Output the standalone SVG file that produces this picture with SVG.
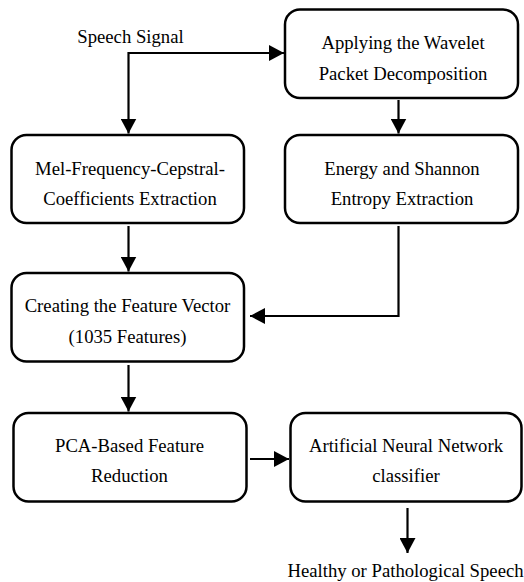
<svg xmlns="http://www.w3.org/2000/svg" width="524" height="582" viewBox="0 0 524 582" font-family="'Liberation Serif', 'DejaVu Serif', serif">
<style>
.box{fill:#fff;stroke:#000;stroke-width:2.5}
text{font-family:'Liberation Serif','Times New Roman',Times,serif;font-size:18.7px;fill:#000}
.c{text-anchor:middle}
.ln{fill:none;stroke:#000;stroke-width:2.2}
</style>
<defs>
<marker id="ah" markerWidth="15" markerHeight="16" refX="15" refY="8" orient="auto" markerUnits="userSpaceOnUse">
<path d="M0,0 L15,8 L0,16 Z" fill="#000"/>
</marker>
</defs>
<rect width="524" height="582" fill="#fff"/>
<g id="connectors">
<path class="ln" d="M128.5,53 H284" marker-end="url(#ah)"/>
<path class="ln" d="M128.5,52 V133.5" marker-end="url(#ah)"/>
<path class="ln" d="M398.5,100 V133.5" marker-end="url(#ah)"/>
<path class="ln" d="M128.5,226 V271.5" marker-end="url(#ah)"/>
<path class="ln" d="M398.5,226 V316 H250" marker-end="url(#ah)"/>
<path class="ln" d="M128.5,365 V411.5" marker-end="url(#ah)"/>
<path class="ln" d="M250,459 H289" marker-end="url(#ah)"/>
<path class="ln" d="M407.5,508 V553" marker-end="url(#ah)"/>
</g>
<g id="speech-signal"><text x="130.5" y="43" class="c">Speech Signal</text></g>
<g id="wpd">
<rect class="box" x="285" y="9.5" width="233" height="88.5" rx="15"/>
<text x="403" y="49" class="c">Applying the Wavelet</text>
<text x="403" y="80" class="c">Packet Decomposition</text>
</g>
<g id="mfcc">
<rect class="box" x="11.5" y="135" width="232.5" height="88" rx="15"/>
<text x="130" y="175" class="c">Mel-Frequency-Cepstral-</text>
<text x="130" y="205" class="c">Coefficients Extraction</text>
</g>
<g id="energy">
<rect class="box" x="285" y="135" width="233" height="88" rx="15"/>
<text x="402" y="175" class="c">Energy and Shannon</text>
<text x="402" y="205" class="c">Entropy Extraction</text>
</g>
<g id="feature-vector">
<rect class="box" x="11.5" y="273" width="232.5" height="88.5" rx="15"/>
<text x="127.5" y="312" class="c">Creating the Feature Vector</text>
<text x="127.5" y="343" class="c">(1035 Features)</text>
</g>
<g id="pca">
<rect class="box" x="13.5" y="413" width="233" height="88.5" rx="15"/>
<text x="129.5" y="452" class="c">PCA-Based Feature</text>
<text x="129.5" y="482" class="c">Reduction</text>
</g>
<g id="ann">
<rect class="box" x="290.5" y="413" width="231" height="88.5" rx="15"/>
<text x="406" y="452" class="c">Artificial Neural Network</text>
<text x="406" y="482" class="c">classifier</text>
</g>
<g id="output"><text x="405.5" y="577" class="c">Healthy or Pathological Speech</text></g>
</svg>
